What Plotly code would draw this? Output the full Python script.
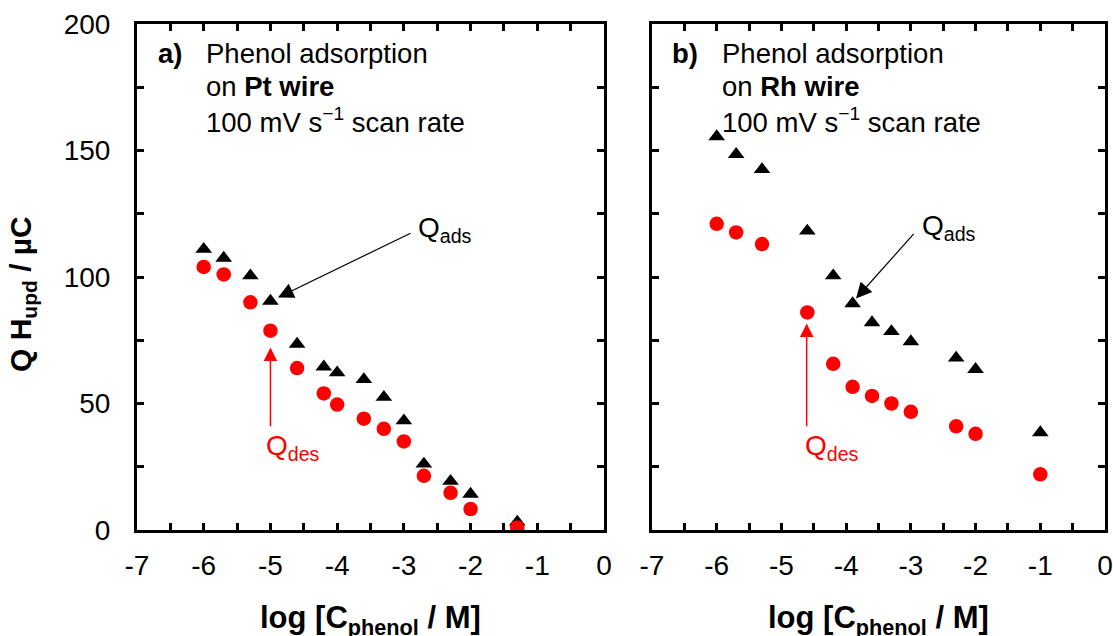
import plotly.graph_objects as go

# Phenol adsorption on Pt wire (panel a)
log_c_pt = [-6.0, -5.7, -5.3, -5.0, -4.6, -4.2, -4.0, -3.6, -3.3, -3.0, -2.7, -2.3, -2.0, -1.3]
q_ads_pt = [111.0, 107.5, 100.5, 90.5, 73.5, 64.5, 62.2, 59.5, 52.5, 43.2, 26.1, 19.3, 14.2, 3.2]
q_des_pt = [104.0, 101.0, 90.0, 78.8, 64.0, 54.0, 49.6, 44.0, 40.0, 35.0, 21.4, 14.7, 8.3, 1.0]

# Phenol adsorption on Rh wire (panel b)
log_c_rh = [-6.0, -5.7, -5.3, -4.6, -4.2, -3.9, -3.6, -3.3, -3.0, -2.3, -2.0, -1.0]
q_ads_rh = [155.5, 148.5, 142.5, 118.2, 100.5, 89.5, 82.0, 78.5, 74.5, 68.0, 63.5, 38.5]
q_des_rh = [121.0, 117.6, 113.0, 86.0, 65.7, 56.6, 53.0, 50.0, 46.7, 41.0, 38.0, 22.0]

# axis ticks
x_ticks = [-7, -6, -5, -4, -3, -2, -1, 0]
x_tick_text = ["-7", "-6", "-5", "-4", "-3", "-2", "-1", "0"]
y_ticks = [0, 50, 100, 150, 200]

FONT = "Arial, Liberation Sans, sans-serif"
RED = "#FF0000"
W, H = 1113, 636


def px_x(p):
    return p / W


def px_y(p):
    return 1 - p / H


fig = go.Figure()

for xs, ads, des, xa, ya in [
    (log_c_pt, q_ads_pt, q_des_pt, "x", "y"),
    (log_c_rh, q_ads_rh, q_des_rh, "x2", "y2"),
]:
    fig.add_trace(go.Scatter(
        x=xs, y=ads, mode="markers", xaxis=xa, yaxis=ya, name="Q ads",
        marker=dict(symbol="triangle-up", size=14.5, color="black", line=dict(width=0)),
    ))
    fig.add_trace(go.Scatter(
        x=xs, y=des, mode="markers", xaxis=xa, yaxis=ya, name="Q des",
        marker=dict(symbol="circle", size=14.5, color=RED, line=dict(width=0)),
    ))

tick_style = dict(ticks="inside", ticklen=7, tickwidth=2.5, tickcolor="black")
common_x = dict(
    range=[-7, 0], tickvals=x_ticks, ticktext=x_tick_text,
    showline=True, linewidth=3, linecolor="black", mirror="allticks",
    minor=dict(dtick=0.5, **tick_style), **tick_style,
    showgrid=False, zeroline=False, automargin=False, ticklabelstandoff=8,
    tickfont=dict(family=FONT, size=28, color="black"),
)
common_y = dict(
    range=[0, 200], tickvals=y_ticks,
    showline=True, linewidth=3, linecolor="black", mirror="allticks",
    minor=dict(dtick=25, **tick_style), **tick_style,
    showgrid=False, zeroline=False, automargin=False, ticklabelstandoff=18,
    tickfont=dict(family=FONT, size=28, color="black"),
)

y_dom = [px_y(530), px_y(24)]
fig.update_layout(
    template="none",
    width=W, height=H,
    margin=dict(l=0, r=0, t=0, b=0),
    paper_bgcolor="white", plot_bgcolor="white",
    showlegend=False,
    font=dict(family=FONT, color="black"),
    xaxis=dict(common_x, domain=[px_x(137), px_x(604)], anchor="y"),
    yaxis=dict(common_y, domain=y_dom, anchor="x"),
    xaxis2=dict(common_x, domain=[px_x(652), px_x(1105)], anchor="y2"),
    yaxis2=dict(common_y, domain=y_dom, anchor="x2", showticklabels=False),
)

ann = []
TXT = 27.5
# panel captions
for xr, yr, letter, metal, xl, xt in [
    ("x", "y", "a)", "Pt wire", -6.72, -6.0),
    ("x2", "y2", "b)", "Rh wire", -6.72, -5.95),
]:
    ann.append(dict(xref=xr, yref=yr, x=xl, y=188.5, text="<b>" + letter + "</b>",
                    xanchor="left", yanchor="middle", showarrow=False,
                    font=dict(size=TXT, family=FONT, color="black")))
    ann.append(dict(xref=xr, yref=yr, x=xt, y=188.5, text="Phenol adsorption",
                    xanchor="left", yanchor="middle", showarrow=False,
                    font=dict(size=TXT, family=FONT, color="black")))
    ann.append(dict(xref=xr, yref=yr, x=xt, y=175.2, text="on <b>" + metal + "</b>",
                    xanchor="left", yanchor="middle", showarrow=False,
                    font=dict(size=TXT, family=FONT, color="black")))
    ann.append(dict(xref=xr, yref=yr, x=xt, y=162.0,
                    text="100 mV s<sup>\u22121</sup> scan rate",
                    xanchor="left", yanchor="middle", showarrow=False,
                    font=dict(size=TXT, family=FONT, color="black")))

# Q_ads arrows and labels
for xr, yr, tip, tail, lab in [
    ("x", "y", (-4.886, 91.9), (-2.877, 117.6), (-2.82, 118.8)),
    ("x2", "y2", (-3.847, 91.5), (-2.935, 117.6), (-2.86, 119.6)),
]:
    ann.append(dict(xref=xr, yref=yr, axref=xr, ayref=yr, x=tip[0], y=tip[1],
                    ax=tail[0], ay=tail[1], text="", showarrow=True,
                    arrowhead=2, arrowsize=2.6, arrowwidth=1.2, arrowcolor="black"))
    ann.append(dict(xref=xr, yref=yr, x=lab[0], y=lab[1], text="Q<sub>ads</sub>",
                    xanchor="left", yanchor="middle", showarrow=False,
                    font=dict(size=28, family=FONT, color="black")))

# Q_des arrows and labels
for xr, yr, xa, tip_y, lab_x in [
    ("x", "y", -5.0, 72.1, -5.10),
    ("x2", "y2", -4.61, 81.6, -4.67),
]:
    ann.append(dict(xref=xr, yref=yr, axref=xr, ayref=yr, x=xa, y=tip_y,
                    ax=xa, ay=40.4, text="", showarrow=True,
                    arrowhead=2, arrowsize=1.8, arrowwidth=1.5, arrowcolor=RED))
    ann.append(dict(xref=xr, yref=yr, x=lab_x, y=32.5, text="Q<sub>des</sub>",
                    xanchor="left", yanchor="middle", showarrow=False,
                    font=dict(size=28, family=FONT, color=RED)))

# axis titles
for cx in [(137 + 604) / 2, (652 + 1105) / 2]:
    ann.append(dict(xref="paper", yref="paper", x=px_x(cx), y=px_y(620),
                    text="<b>log [C<sub>phenol</sub> / M]</b>", showarrow=False,
                    xanchor="center", yanchor="middle",
                    font=dict(size=31, family=FONT, color="black")))
ann.append(dict(xref="paper", yref="paper", x=px_x(22), y=px_y(294),
                text="<b>Q H<sub>upd</sub> / \u00b5C</b>", showarrow=False, textangle=-90,
                xanchor="center", yanchor="middle",
                font=dict(size=30, family=FONT, color="black")))

fig.update_layout(annotations=ann)
fig.write_html("out.html")
